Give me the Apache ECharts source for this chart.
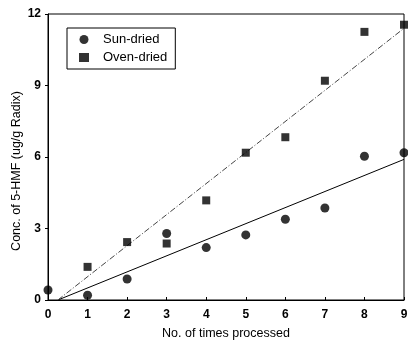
<!DOCTYPE html>
<html>
<head>
<meta charset="utf-8">
<script src="https://cdn.jsdelivr.net/npm/echarts@6/dist/echarts.min.js"></script>
<style>
  html, body { margin: 0; padding: 0; background: #fff; }
  #chart { width: 408px; height: 340px; }
</style>
</head>
<body>
<div id="chart"></div>
<script>
// 数据
var timesProcessed = [0, 1, 2, 3, 4, 5, 6, 7, 8, 9];
var sunDried = [0.42, 0.2, 0.88, 2.79, 2.2, 2.73, 3.39, 3.86, 6.03, 6.18];
var ovenDried = [null, 1.39, 2.43, 2.37, 4.18, 6.18, 6.83, 9.2, 11.25, 11.55];
// trend lines (end points)
var sunTrend = [[0.25, 0], [9, 5.9]];
var ovenTrend = [[0.25, 0], [9, 11.4]];
var yTicks = [0, 3, 6, 9, 12];

function pairs(xs, ys) {
	var out = [];
	for (var i = 0; i < xs.length; i++) {
		if (ys[i] != null) out.push([xs[i], ys[i]]);
	}
	return out;
}

var myChart = echarts.init(document.getElementById('chart'));
var font = 'Liberation Sans, Arial, sans-serif';

option = {
	animation: false,
	textStyle: { fontFamily: font, color: '#000' },
	grid: {
		left: 48, right: 4, top: 14, bottom: 40,
		outerBoundsMode: 'none',
		containLabel: false,
		show: true, borderColor: '#000', borderWidth: 1
	},
	legend: {
		data: ['Sun-dried', 'Oven-dried'],
		orient: 'vertical',
		left: 67, top: 28,
		itemWidth: 10, itemHeight: 9,
		itemGap: 5,
		padding: [5, 8, 5, 12],
		borderColor: '#000', borderWidth: 1,
		textStyle: { fontSize: 13, color: '#000', fontFamily: font, padding: [0, 0, 0, 9] }
	},
	xAxis: {
		type: 'value',
		min: 0, max: 9, interval: 1,
		name: 'No. of times processed',
		nameLocation: 'middle',
		nameGap: 27,
		nameMoveOverlap: false,
		nameTextStyle: { fontSize: 12.5, color: '#000' },
		axisLine: { lineStyle: { color: '#000', width: 1 } },
		axisTick: { inside: true, length: 3, lineStyle: { color: '#000' } },
		axisLabel: { fontSize: 12, color: '#000', fontWeight: 'bold', margin: 9 },
		splitLine: { show: false }
	},
	yAxis: {
		type: 'value',
		min: yTicks[0], max: yTicks[yTicks.length - 1], interval: 3,
		name: 'Conc. of 5-HMF (ug/g Radix)',
		nameLocation: 'middle',
		nameGap: 25,
		nameMoveOverlap: false,
		nameTextStyle: { fontSize: 12.5, color: '#000', padding: [0, 28, 0, 0] },
		axisLine: { lineStyle: { color: '#000', width: 1 } },
		axisTick: { length: 3, lineStyle: { color: '#000' } },
		axisLabel: { fontSize: 12, color: '#000', fontWeight: 'bold', margin: 7 },
		splitLine: { show: false }
	},
	series: [
		{
			name: 'Sun-dried',
			type: 'scatter',
			symbol: 'circle',
			symbolSize: 9,
			itemStyle: { color: '#000' },
			data: pairs(timesProcessed, sunDried),
			z: 3
		},
		{
			name: 'Oven-dried',
			type: 'scatter',
			symbol: 'rect',
			symbolSize: 8,
			itemStyle: { color: '#000' },
			data: pairs(timesProcessed, ovenDried),
			z: 3
		},
		{
			name: 'sunTrend',
			type: 'line',
			symbol: 'none',
			silent: true,
			lineStyle: { color: '#000', width: 1 },
			data: sunTrend,
			z: 2
		},
		{
			name: 'ovenTrend',
			type: 'line',
			symbol: 'none',
			silent: true,
			lineStyle: { color: '#444', width: 1, type: [6, 2, 1, 2] },
			data: ovenTrend,
			z: 2
		}
	]
};
myChart.setOption(option);
</script>
</body>
</html>
